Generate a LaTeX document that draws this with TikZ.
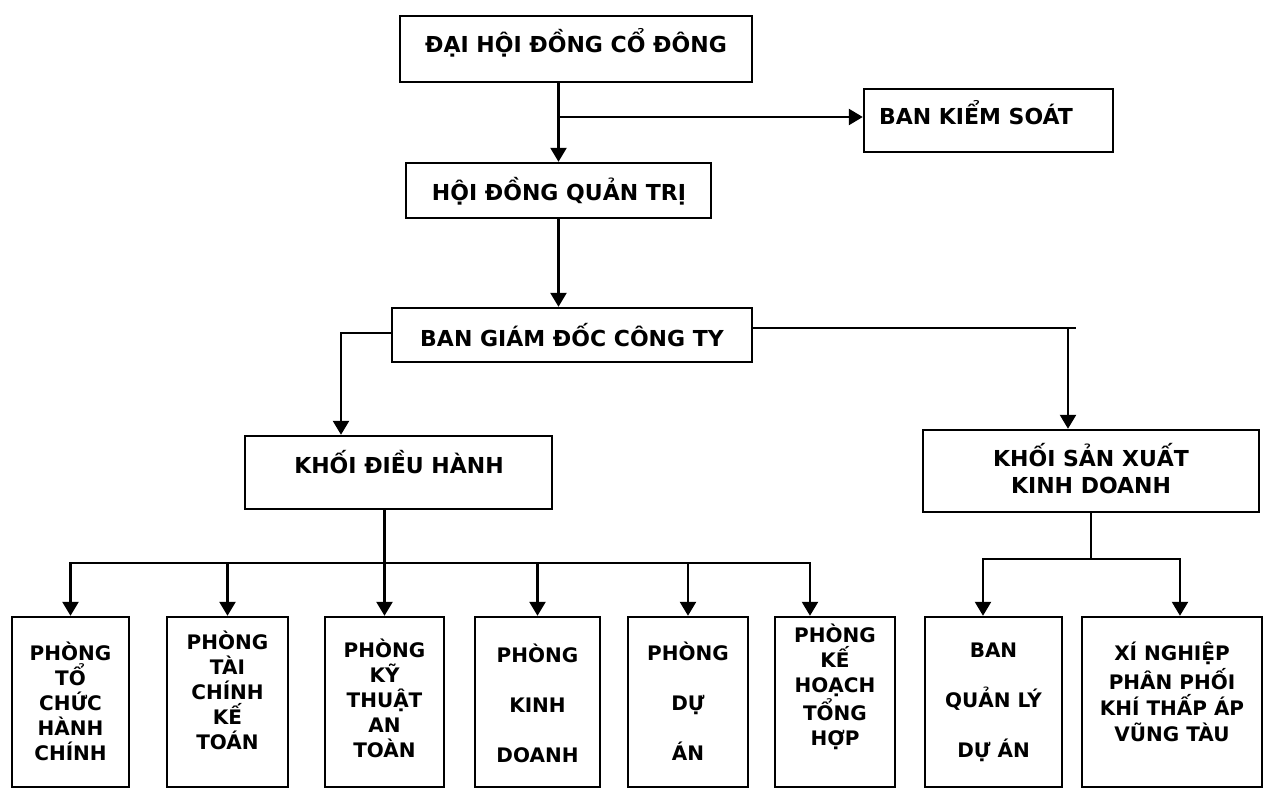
\documentclass[tikz,border=0pt]{standalone}
\usepackage{fontspec}
\setmainfont{DejaVu Sans}
\usetikzlibrary{arrows.meta,calc}
\tikzstyle{box} = [rectangle, draw=black, line width=1.2pt, inner sep=0pt]
\tikzstyle{toptext} = [font=\bfseries\fontsize{11}{13.5}\selectfont, align=center, inner sep=0pt]
\tikzstyle{depttext} = [font=\bfseries\fontsize{10}{12.5}\selectfont, align=center, inner sep=0pt]
\tikzstyle{arrow} = [draw, line width=1.2pt, line cap=rect, -{Triangle[length=7pt,width=8pt]}]
\tikzstyle{link} = [draw, line width=1.2pt, line cap=rect]

\begin{document}
\begin{tikzpicture}[x=0.5pt, y=-0.5pt]
    \useasboundingbox (0,0) rectangle (1264,790);

    % upper levels
    \node (dhdcd) [box, minimum width=176pt, minimum height=33pt] at (576,49) {};
    \node (dhdcdText) [toptext] at (576,43) {ĐẠI HỘI ĐỒNG CỔ ĐÔNG};
    \node (bks) [box, minimum width=124.5pt, minimum height=31.5pt] at (988.5,120.5) {};
    \node (bksText) [toptext] at (976,113) {BAN KIỂM SOÁT};
    \node (hdqt) [box, minimum width=152.5pt, minimum height=27.5pt] at (558.5,190.5) {};
    \node (hdqtText) [toptext] at (559,191) {HỘI ĐỒNG QUẢN TRỊ};
    \node (bgd) [box, minimum width=180pt, minimum height=27pt] at (572,335) {};
    \node (bgdText) [toptext] at (572,335) {BAN GIÁM ĐỐC CÔNG TY};
    \node (kdh) [box, minimum width=153.5pt, minimum height=36.5pt] at (398.5,472.5) {};
    \node (kdhText) [toptext] at (399,462) {KHỐI ĐIỀU HÀNH};
    \node (ksx) [box, minimum width=168pt, minimum height=41pt] at (1091,471) {};
    \node (ksxText) [toptext] at (1091,468.5) {KHỐI SẢN XUẤT\\KINH DOANH};

    % departments
    \node (b1) [box, minimum width=58.5pt, minimum height=85pt] at (70.5,702) {};
    \node (b1Text) [depttext] at (70.5,701) {PHÒNG\\TỔ\\CHỨC\\HÀNH\\CHÍNH};
    \node (b2) [box, minimum width=60.5pt, minimum height=85pt] at (227.5,702) {};
    \node (b2Text) [depttext] at (227.5,690) {PHÒNG\\TÀI\\CHÍNH\\KẾ\\TOÁN};
    \node (b3) [box, minimum width=59.5pt, minimum height=85pt] at (384.5,702) {};
    \node (b3Text) [depttext] at (384.5,698) {PHÒNG\\KỸ\\THUẬT\\AN\\TOÀN};
    \node (b4) [box, minimum width=62.5pt, minimum height=85pt] at (537.5,702) {};
    \node (b4Text) [depttext] at (537.5,703) {PHÒNG\\[12.5pt]KINH\\[12.5pt]DOANH};
    \node (b5) [box, minimum width=60pt, minimum height=85pt] at (688,702) {};
    \node (b5Text) [depttext] at (688,701) {PHÒNG\\[12.5pt]DỰ\\[12.5pt]ÁN};
    \node (b6) [box, minimum width=60pt, minimum height=85pt] at (835,702) {};
    \node (b6Text) [depttext] at (835,687) {PHÒNG\\KẾ\\HOẠCH\\TỔNG\\HỢP};
    \node (b7) [box, minimum width=68.5pt, minimum height=85pt] at (993.5,702) {};
    \node (b7Text) [depttext] at (993.5,702) {BAN\\[12.5pt]QUẢN LÝ\\[12.5pt]DỰ ÁN};
    \node (b8) [box, minimum width=90pt, minimum height=85pt] at (1172,702) {};
    \node (b8Text) [depttext] at (1172,692) {XÍ NGHIỆP\\[0.5pt]PHÂN PHỐI\\[0.5pt]KHÍ THẤP ÁP\\[0.5pt]VŨNG TÀU};

    % connectors, top
    \coordinate (split) at (558.5,117);
    \path [arrow] (hdqt.north |- dhdcd.south) -- (hdqt.north);
    \path [arrow] (split) -- (split -| bks.west);
    \path [arrow] (hdqt.south) -- (hdqt.south |- bgd.north);
    \path [arrow] ([yshift=1pt]bgd.west) -| ([xshift=-28.75pt]kdh.north);
    \path [link] ([yshift=3.5pt]bgd.east) -- ($(ksx.north |- bgd.east)+(-8pt,3.5pt)$);
    \path [arrow] ($(ksx.north |- bgd.east)+(-11.5pt,3.5pt)$) -- ([xshift=-11.5pt]ksx.north);

    % connectors, bottom
    \coordinate (busL) at (0,563);
    \coordinate (busR) at (0,559);
    \path [link] (b1.north |- busL) -- ($(b6.north |- busL)+(-12.5pt,0)$);
    \path [arrow] (b3.north |- kdh.south) -- (b3.north);
    \foreach \b in {b1,b2,b4,b5}
        \path [arrow] (\b.north |- busL) -- (\b.north);
    \path [arrow] ($(b6.north |- busL)+(-12.5pt,0)$) -- ([xshift=-12.5pt]b6.north);
    \path [link] (ksx.south) -- (ksx.south |- busR);
    \path [link] ($(b7.north |- busR)+(-5.25pt,0)$) -- ($(b8.north |- busR)+(4pt,0)$);
    \path [arrow] ($(b7.north |- busR)+(-5.25pt,0)$) -- ([xshift=-5.25pt]b7.north);
    \path [arrow] ($(b8.north |- busR)+(4pt,0)$) -- ([xshift=4pt]b8.north);
\end{tikzpicture}
\end{document}
